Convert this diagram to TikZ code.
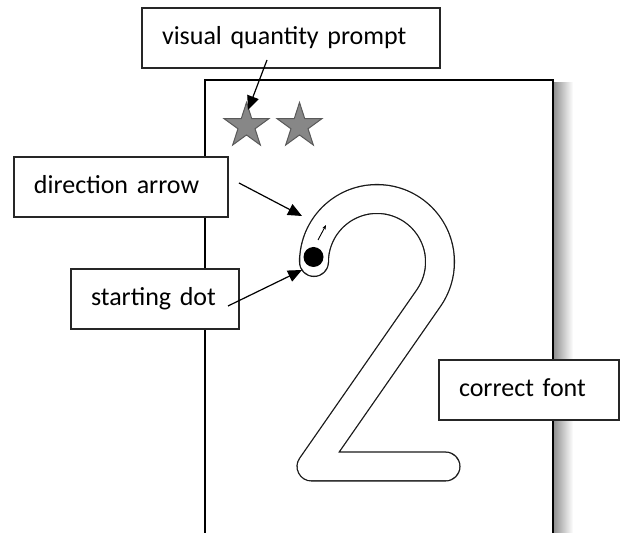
\documentclass[tikz,border=0pt]{standalone}
\usepackage{fontspec}
\setmainfont{Carlito}
\usetikzlibrary{arrows.meta,shapes.geometric}
\tikzset{
  callout/.style={draw=black!85, line width=1.3pt, fill=white, inner xsep=20pt, inner ysep=0pt,
    minimum height=60pt, align=left, text height=18pt, text depth=5pt,
    font=\fontsize{26}{31}\selectfont},
  pointer/.style={line width=1.2pt, -{Triangle[length=14pt,width=12pt]}},
  starstyle/.style={star, star points=5, star point ratio=2.618, minimum size=47pt, inner sep=0pt,
    draw=black!65, line width=1pt, fill=black!47},
  numeral/.style={double=white, double distance=27.5pt, line width=1.3pt, draw=black!90,
    line cap=round, line join=round}
}
\begin{document}
\begin{tikzpicture}[x=1pt,y=1pt]
\useasboundingbox (0,0) rectangle (622,533);
\begin{scope}
\clip (0,0) rectangle (622,533);
% page shadow
\shade[left color=black!45, right color=white] (553,-10) rectangle (573,450);
% page
\draw[line width=2pt, fill=white] (205,-10) -- (205,453) -- (553,453) -- (553,-10);
% stars
\node[starstyle] (star1) at (246.5,407) {};
\node[starstyle] (star2) at (299.5,407) {};
% numeral 2
\coordinate (hookstart) at (314,275);
\draw[numeral] (hookstart) -- (314,271) arc[start angle=180, end angle=-34.6, radius=63]
  -- (311.5,66.5) coordinate (corner) -- (445.5,66.5) coordinate (barend);
\node[circle, fill=black, minimum size=20pt, inner sep=0pt] (dot) at (313.5,276) {};
\coordinate (dirA) at (318,293);
\coordinate (dirB) at (326,308);
\draw[line width=0.9pt, -{Stealth[length=4.5pt,width=3.5pt]}] (dirA) -- (dirB);
% callouts
\node[callout, text width=258pt] (vis) at (291,495) {visual quantity prompt};
\node[callout, text width=174pt] (dir) at (121,346) {direction arrow};
\node[callout, text width=128pt] (start) at (155,234) {starting dot};
\node[callout, text width=140pt] (font) at (529,143) {correct font};
% pointers
\coordinate (visfrom) at (267,473);
\coordinate (vistip) at (248,423);
\coordinate (dirfrom) at (239,350);
\coordinate (dirtip) at (302,317);
\coordinate (startfrom) at (228,227);
\coordinate (starttip) at (302,263);
\draw[pointer] (visfrom) -- (vistip);
\draw[pointer] (dirfrom) -- (dirtip);
\draw[pointer] (startfrom) -- (starttip);
\end{scope}
\end{tikzpicture}
\end{document}
